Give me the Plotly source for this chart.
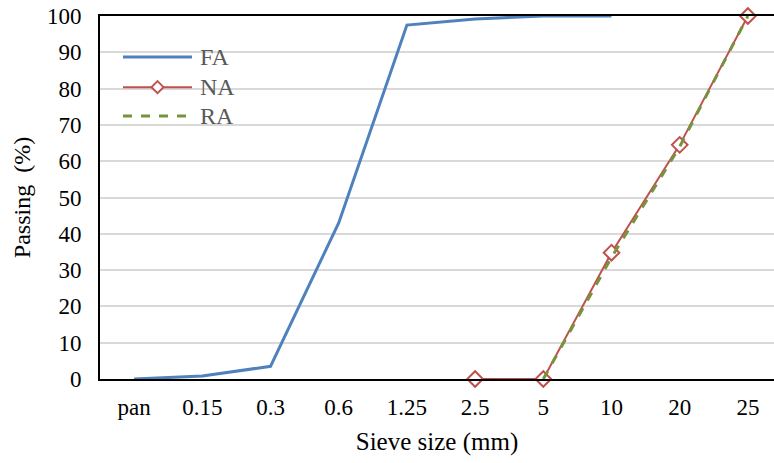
import plotly.graph_objects as go

# sieve sizes (categorical axis)
sieves = ["pan", "0.15", "0.3", "0.6", "1.25", "2.5", "5", "10", "20", "25"]

fa_sieves = ["pan", "0.15", "0.3", "0.6", "1.25", "2.5", "5", "10"]
fa_pass = [0, 0.8, 3.5, 43, 97.5, 99.2, 100, 100]

na_sieves = ["2.5", "5", "10", "20", "25"]
na_pass = [0, 0, 34.8, 64.5, 100]

ra_sieves = ["5", "10", "20", "25"]
ra_pass = [0, 33.5, 64, 100]

font = "Liberation Serif, Times New Roman, serif"
blue, red, green = "#4F81BD", "#C0504D", "#77933C"

fig = go.Figure()
fig.add_trace(go.Scatter(x=fa_sieves, y=fa_pass, name="FA", mode="lines",
                         line=dict(color=blue, width=3), cliponaxis=False))
fig.add_trace(go.Scatter(x=na_sieves, y=na_pass, name="NA", mode="lines+markers",
                         line=dict(color=red, width=2), cliponaxis=False,
                         marker=dict(symbol="diamond", size=12, color="white",
                                     line=dict(width=2, color=red))))
fig.add_trace(go.Scatter(x=ra_sieves, y=ra_pass, name="RA", mode="lines",
                         line=dict(color=green, width=3, dash="dash"), cliponaxis=False))

# plot area is 674 px wide, the chart runs past the right edge like the original
pw, ph = 674, 363
# hand-drawn legend (excel style, long sample lines)
x0, x1, xt = 23 / pw, 92 / pw, 98 / pw
rows = [(0.887, "FA", blue, "solid", 3),
        (0.804, "NA", red, "solid", 2),
        (0.7245, "RA", green, "dash", 3)]
for yy, label, col, dash, w in rows:
    fig.add_shape(type="line", xref="paper", yref="paper", x0=x0, x1=x1, y0=yy, y1=yy,
                  line=dict(color=col, width=w, dash=dash))
    fig.add_annotation(x=xt, y=yy, xref="paper", yref="paper", text=label,
                       showarrow=False, xanchor="left", yanchor="middle",
                       font=dict(size=24, color="#595959"))
# diamond marker in the NA sample
xc, yc = (x0 + x1) / 2, 0.804
dx, dy = 6 / pw, 6 / ph
fig.add_shape(type="path", xref="paper", yref="paper",
              path=f"M {xc},{yc+dy} L {xc+dx},{yc} L {xc},{yc-dy} L {xc-dx},{yc} Z",
              fillcolor="white", line=dict(color=red, width=2))

fig.update_layout(
    width=774, height=463,
    margin=dict(l=100, r=0, t=16, b=84),
    paper_bgcolor="white", plot_bgcolor="white",
    font=dict(family=font, size=23, color="black"),
    showlegend=False,
    xaxis=dict(
        type="category", categoryorder="array", categoryarray=sieves,
        range=[-0.5, -0.5 + pw / 68.2], automargin=False,
        title=dict(text="Sieve size (mm)", font=dict(size=25), standoff=14),
        showgrid=False, showline=True, linecolor="black", linewidth=2,
        mirror=True, ticks="", ticklabelstandoff=6,
    ),
    yaxis=dict(
        range=[0, 100], dtick=10, automargin=False,
        title=dict(text="Passing  (%)", font=dict(size=24), standoff=10),
        showgrid=True, gridcolor="#D9D9D9", gridwidth=2,
        showline=True, linecolor="black", linewidth=2,
        zeroline=False, ticks="", ticklabelstandoff=12,
        ticklabeloverflow="allow",
    ),
)

# drop the default page margin so the figure sits at the window corner
fig.write_html("out.html", config={"displayModeBar": False},
               post_script="document.body.style.margin='0';")
